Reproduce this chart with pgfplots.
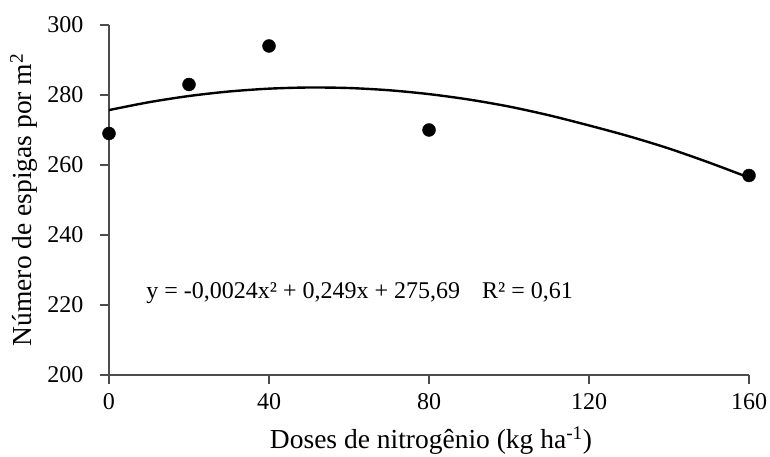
\documentclass[border=0pt]{standalone}
\usepackage{fontspec}
\setmainfont{Liberation Serif}
\usepackage{pgfplots}
\pgfplotsset{compat=1.18}

\begin{document}
\begin{tikzpicture}
\begin{axis}[
    at={(0,0)}, anchor=south west,
    scale only axis,
    width=640pt, height=350pt,
    xmin=0, xmax=160, ymin=200, ymax=300,
    axis x line*=bottom, axis y line*=left,
    axis line style={black!70, line width=1.2pt},
    xtick={0,40,...,160}, ytick={200,220,...,300},
    tick align=outside, major tick length=9pt,
    tick style={black!70, line width=1.2pt},
    minor tick num=0,
    /pgf/number format/assume math mode=true,
    ticklabel style={font=\fontsize{24}{26}\selectfont},
    yticklabel style={xshift=-13pt},
    xticklabel style={yshift=-6pt},
    label style={font=\fontsize{27.5}{29}\selectfont},
    xlabel={Doses de nitrogênio (kg ha\textsuperscript{-1})},
    ylabel={Número de espigas por m\textsuperscript{2}},
    xlabel style={at={(axis description cs:0.5031,-0.1886)}, anchor=center},
    ylabel style={at={(axis description cs:-0.1328,0.5)}, anchor=center, rotate=0},
    clip=false,
]
% fitted curve as drawn
\addplot[black, line width=2.4pt, smooth] coordinates {
    (0,275.69) (10,277.94) (20,279.71) (30,281.00) (40,281.81) (50,282.14)
    (60,281.99) (70,281.36) (80,280.25) (90,278.70) (100,276.70) (110,274.20)
    (120,271.30) (130,268.20) (140,264.70) (150,260.70) (160,256.40)
};
% observed means
\addplot[only marks, mark=*, mark size=6.5pt, black] coordinates {
    (0,269) (20,283) (40,294) (80,270) (160,257)
};
\node[anchor=west, font=\fontsize{24}{26}\selectfont, inner sep=0pt]
    at (axis cs:9.3,223.4) {y = -0,0024x² + 0,249x + 275,69\hspace{22pt}R² = 0,61};
\end{axis}
\pgfresetboundingbox
\useasboundingbox (-109pt,-82pt) rectangle (661pt,375pt);
\end{tikzpicture}
\end{document}
